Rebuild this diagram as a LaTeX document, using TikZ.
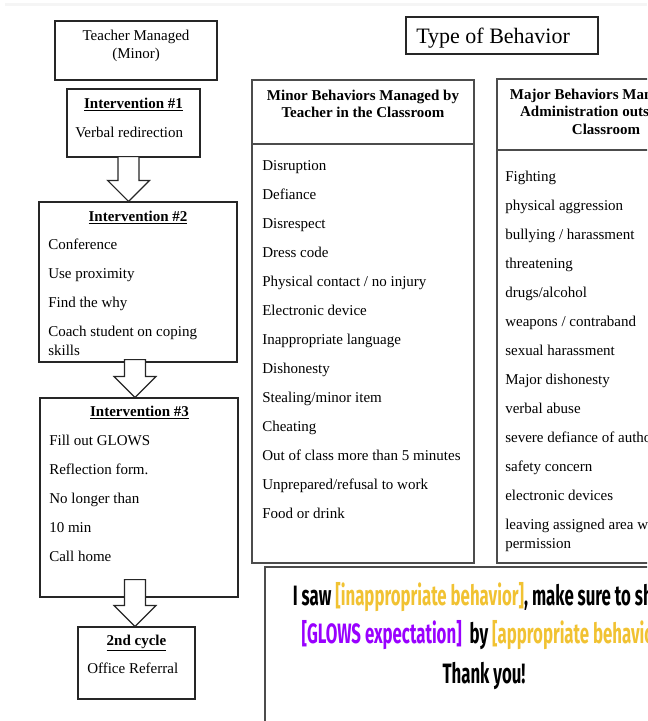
\documentclass[tikz,border=0pt]{standalone}
\usepackage{fontspec}
\setmainfont{Liberation Serif}
\newfontfamily\sayfont[FakeStretch=0.6]{Fira Sans}
\usepackage{xcolor}
\usepackage{tikz}
\usetikzlibrary{calc}
\definecolor{glowsyellow}{HTML}{F1C232}
\definecolor{glowspurple}{HTML}{9900FF}
\newcommand{\pxu}{0.75pt}
% block arrow from the bottom of one box to the top of the next
% #1 from, #2 to, #3 centre x, #4 how far the shaft reaches up into #1
\newcommand{\blockarrow}[4]{%
  \path (#1.south) ++(0,-#4) coordinate (shafttop);
  \path (#2.north) ++(0,-21) coordinate (headtop);
  \draw[barrow] (#3-10.5,0 |- shafttop) -- (#3-10.5,0 |- headtop) -- (#3-21,0 |- headtop)
    -- (#3,0 |- #2.north) -- (#3+21,0 |- headtop) -- (#3+10.5,0 |- headtop)
    -- (#3+10.5,0 |- shafttop) -- cycle;}

\begin{document}
\begin{tikzpicture}[x=0.75pt,y=-0.75pt,
	box/.style={draw=black!85,line width=0.9pt,fill=white,inner sep=0pt},
	barrow/.style={draw=black!85,line width=0.9pt,fill=white,line join=miter},
	txt/.style={inner sep=0pt,font=\fontsize{11.25}{13}\selectfont},
	hd/.style={inner sep=0pt,font=\fontsize{11.25}{13}\selectfont\bfseries},
	say/.style={inner sep=0pt,font=\fontsize{21}{24}\selectfont\sayfont\bfseries}]
	\useasboundingbox (0,0) rectangle (647,721);
	\clip (0,0) rectangle (647,721);
	\fill[black!4] (5,3) rectangle (647,6);

	% left column: interventions
	\node[box,minimum width=162*\pxu,minimum height=59*\pxu] (tm) at (136,50.5) {};
	\node[txt,anchor=base] (tm1) at (136,40) {Teacher Managed};
	\node[txt,anchor=base] (tm2) at (136,58) {(Minor)};

	\node[box,minimum width=133*\pxu,minimum height=68*\pxu] (int1) at (133.5,123) {};
	\node[hd,anchor=base] (int1t) at (133.5,108) {\underline{Intervention \#1}};
	\node[txt,anchor=base west] (int1a) at (75,137) {Verbal redirection};

	\node[box,minimum width=198*\pxu,minimum height=160*\pxu] (int2) at (138,282) {};
	\node[hd,anchor=base] (int2t) at (138,221) {\underline{Intervention \#2}};
	\foreach \step [count=\i from 0] in {Conference,Use proximity,Find the why,Coach student on coping}
	\node[txt,anchor=base west] (int2\i) at (48,249+29*\i) {\step};
	\node[txt,anchor=base west] (int2w) at (48,355) {skills};

	\node[box,minimum width=198*\pxu,minimum height=199*\pxu] (int3) at (139,497.5) {};
	\node[hd,anchor=base] (int3t) at (139.5,416) {\underline{Intervention \#3}};
	\foreach \step [count=\i from 0] in {Fill out GLOWS,Reflection form.,No longer than,10 min,Call home}
	\node[txt,anchor=base west] (int3\i) at (49,445+29*\i) {\step};

	\node[box,minimum width=117*\pxu,minimum height=72*\pxu] (cyc) at (136.5,663) {};
	\node[hd,anchor=base] (cyct) at (136.5,645) {\underline{2nd cycle}};
	\node[txt,anchor=base west] (cyca) at (87,673) {Office Referral};

	\blockarrow{int1}{int2}{128.5}{1}
	\blockarrow{int2}{int3}{135}{3}
	\blockarrow{int3}{cyc}{135}{18}

	% right part: type of behavior
	\node[box,minimum width=192*\pxu,minimum height=37*\pxu] (tob) at (502,35.5) {};
	\node[inner sep=0pt,anchor=base west,font=\fontsize{16.5}{19}\selectfont] (tobt) at (416,43) {Type of Behavior};

	\node[box,draw=black!70,minimum width=222*\pxu,minimum height=483*\pxu] (minor) at (363,321.5) {};
	\draw[black!70,line width=0.9pt] (minor.west |- 0,144) -- (minor.east |- 0,144);
	\node[hd,anchor=base] (minorh1) at (363,100) {Minor Behaviors Managed by};
	\node[hd,anchor=base] (minorh2) at (363,117) {Teacher in the Classroom};
	\foreach \beh [count=\i from 0] in {Disruption,Defiance,Disrespect,Dress code,
		Physical contact / no injury,Electronic device,Inappropriate language,Dishonesty,
		Stealing/minor item,Cheating,Out of class more than 5 minutes,
		Unprepared/refusal to work,Food or drink}
	\node[txt,anchor=base west] (minor\i) at (262,170+29*\i) {\beh};

	\node[box,draw=black!70,minimum width=218*\pxu,minimum height=484*\pxu] (major) at (606,321) {};
	\draw[black!70,line width=0.9pt] (major.west |- 0,150) -- (major.east |- 0,150);
	\node[hd,anchor=base] (majorh1) at (606,99) {Major Behaviors Managed by};
	\node[hd,anchor=base] (majorh2) at (606,116) {Administration outside the};
	\node[hd,anchor=base] (majorh3) at (606,134) {Classroom};
	\foreach \beh [count=\i from 0] in {Fighting,physical aggression,bullying / harassment,
		threatening,drugs/alcohol,weapons / contraband,sexual harassment,Major dishonesty,
		verbal abuse,severe defiance of authority,safety concern,electronic devices,
		leaving assigned area without}
	\node[txt,anchor=base west] (major\i) at (505,181+29*\i) {\beh};
	\node[txt,anchor=base west] (majorw) at (505,548) {permission};

	% reminder sentence
	\node[box,draw=black!70,minimum width=438*\pxu,minimum height=190*\pxu] (saying) at (484,662) {};
	\node[say,anchor=base] (say1) at (484,605) {I saw \textcolor{glowsyellow}{[inappropriate behavior]}, make sure to show};
	\node[say,anchor=base] (say2) at (484,643) {\textcolor{glowspurple}{[GLOWS expectation]}~ by \textcolor{glowsyellow}{[appropriate behavior]}};
	\node[say,anchor=base] (say3) at (484,683) {Thank you!};
\end{tikzpicture}
\end{document}
